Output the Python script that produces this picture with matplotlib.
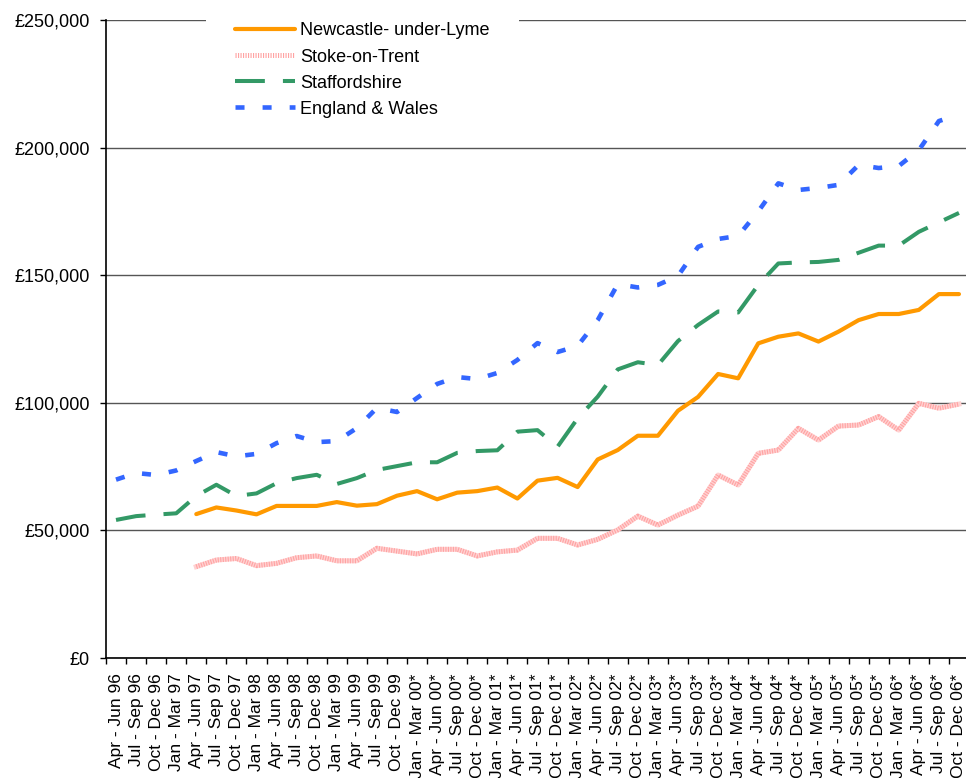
import numpy as np
import matplotlib
matplotlib.use("Agg")
from matplotlib import pyplot as plt
from matplotlib.ticker import FuncFormatter, MultipleLocator, FixedLocator

plt.rcParams['font.family'] = ['Liberation Sans', 'DejaVu Sans']
plt.rcParams['lines.scale_dashes'] = False

quarters = [
    "Apr - Jun 96", "Jul - Sep 96", "Oct - Dec 96", "Jan - Mar 97",
    "Apr - Jun 97", "Jul - Sep 97", "Oct - Dec 97", "Jan - Mar 98",
    "Apr - Jun 98", "Jul - Sep 98", "Oct - Dec 98", "Jan - Mar 99",
    "Apr - Jun 99", "Jul - Sep 99", "Oct - Dec 99", "Jan - Mar 00*",
    "Apr - Jun 00*", "Jul - Sep 00*", "Oct - Dec 00*", "Jan - Mar 01*",
    "Apr - Jun 01*", "Jul - Sep 01*", "Oct - Dec 01*", "Jan - Mar 02*",
    "Apr - Jun 02*", "Jul - Sep 02*", "Oct - Dec 02*", "Jan - Mar 03*",
    "Apr - Jun 03*", "Jul - Sep 03*", "Oct - Dec 03*", "Jan - Mar 04*",
    "Apr - Jun 04*", "Jul - Sep 04*", "Oct - Dec 04*", "Jan - Mar 05*",
    "Apr - Jun 05*", "Jul - Sep 05*", "Oct - Dec 05*", "Jan - Mar 06*",
    "Apr - Jun 06*", "Jul - Sep 06*", "Oct - Dec 06*",
]

# average house prices, thousands of pounds (nan = no figure for that quarter)
nan = np.nan
newcastle = [nan, nan, nan, nan,
             56.4, 59.0, 57.8, 56.3, 59.6, 59.6, 59.6, 61.1, 59.7, 60.3, 63.6,
             65.4, 62.2, 64.8, 65.4, 66.8, 62.5, 69.5, 70.6, 67.0, 77.8, 81.5,
             87.1, 87.1, 96.9, 102.3, 111.3, 109.6, 123.3, 125.9, 127.2, 124.0,
             127.9, 132.4, 134.8, 134.8, 136.4, 142.6, 142.6]
stoke = [nan, nan, nan, nan,
         35.8, 38.4, 39.0, 36.2, 37.1, 39.3, 40.0, 38.1, 38.1, 43.0, 41.9,
         40.8, 42.6, 42.6, 40.0, 41.6, 42.3, 46.9, 46.9, 44.3, 46.5, 50.2,
         55.6, 52.1, 56.0, 59.5, 71.7, 67.8, 80.2, 81.5, 90.0, 85.4,
         90.9, 91.3, 94.6, 89.3, 99.8, 97.9, 99.5]
staffordshire = [54.1, 55.6, 56.2, 56.7, 63.5, 67.9, 63.5, 64.5, 68.5, 70.5,
                 71.8, 68.2, 70.5, 73.7, 75.2, 76.7, 76.7, 80.4, 81.1, 81.4,
                 88.7, 89.3, 82.8, 93.9, 102.4, 113.1, 115.9, 114.8, 124.2,
                 130.5, 135.8, 135.4, 146.2, 154.6, 155.0, 155.2, 156.0, 158.8,
                 161.6, 161.6, 167.0, 170.7, 174.4]
england_wales = [69.9, 72.5, 71.7, 73.5, 77.2, 80.7, 79.0, 80.0, 84.2, 87.0,
                 84.6, 85.0, 90.1, 98.0, 96.4, 101.9, 107.4, 110.1, 109.3,
                 111.7, 116.8, 123.4, 119.9, 122.3, 132.4, 146.5, 145.2, 146.2,
                 149.7, 161.1, 164.2, 165.4, 175.0, 186.0, 183.4, 184.2, 185.4,
                 193.2, 192.0, 192.8, 199.0, 210.4, 213.0]

x = np.arange(len(quarters))
k = 1000

fig = plt.figure(figsize=(9.66, 7.78), dpi=100)
ax = fig.add_axes([0.1097, 0.1542, 0.8934, 0.8201])

ax.plot(x, np.array(newcastle) * k, color='#FF9900', lw=3.0,
        solid_capstyle='round', solid_joinstyle='round',
        label='Newcastle- under-Lyme', zorder=4)

# Stoke: pale pink line with fine stripes across it
ax.plot(x, np.array(stoke) * k, color='#FFD2D2', lw=3.6,
        solid_joinstyle='round', zorder=3)
stoke_line, = ax.plot(x, np.array(stoke) * k, color='#FFA3A3', lw=3.6,
                      linestyle=(0, (0.8, 1.0)), zorder=3)
stoke_line.set_label('Stoke-on-Trent')

ax.plot(x, np.array(staffordshire) * k, color='#339966', lw=2.9,
        linestyle=(0, (21.5, 13.0)), dash_capstyle='butt',
        label='Staffordshire', zorder=3)
ax.plot(x, np.array(england_wales) * k, color='#3366FF', lw=3.3,
        linestyle=(0, (6.5, 13.0)), dash_capstyle='butt',
        label='England & Wales', zorder=3)

ax.set_xlim(-0.5, len(quarters) - 0.5)
ax.set_ylim(0, 250000)
ax.yaxis.set_major_locator(MultipleLocator(50000))
ax.yaxis.set_major_formatter(FuncFormatter(lambda v, p: f'£{v:,.0f}'))
ax.grid(axis='y', color='#555555', lw=1.0, zorder=1)

ax.set_xticks(x)
ax.set_xticklabels(quarters, rotation=90, fontsize=12.5)
ax.xaxis.set_minor_locator(FixedLocator(np.arange(len(quarters) + 1) - 0.5))
ax.tick_params(axis='x', which='major', length=0, pad=11)
ax.tick_params(axis='x', which='minor', length=4, width=1, color='black')
ax.tick_params(axis='y', length=4.5, width=1, pad=7, labelsize=13)

for side in ('top', 'right'):
    ax.spines[side].set_visible(False)
for side in ('left', 'bottom'):
    ax.spines[side].set_color('black')
    ax.spines[side].set_linewidth(1.2)

leg = ax.legend(loc='center', bbox_to_anchor=(0.3753, 0.9100),
                bbox_transform=fig.transFigure, fontsize=13,
                handlelength=3.3, handletextpad=0.3, labelspacing=0.5,
                borderpad=1.6, frameon=True, fancybox=False)
leg.get_frame().set_facecolor('white')
leg.get_frame().set_edgecolor('none')
leg.get_frame().set_alpha(1.0)

fig.savefig('out.png', dpi=100)
plt.close(fig)
